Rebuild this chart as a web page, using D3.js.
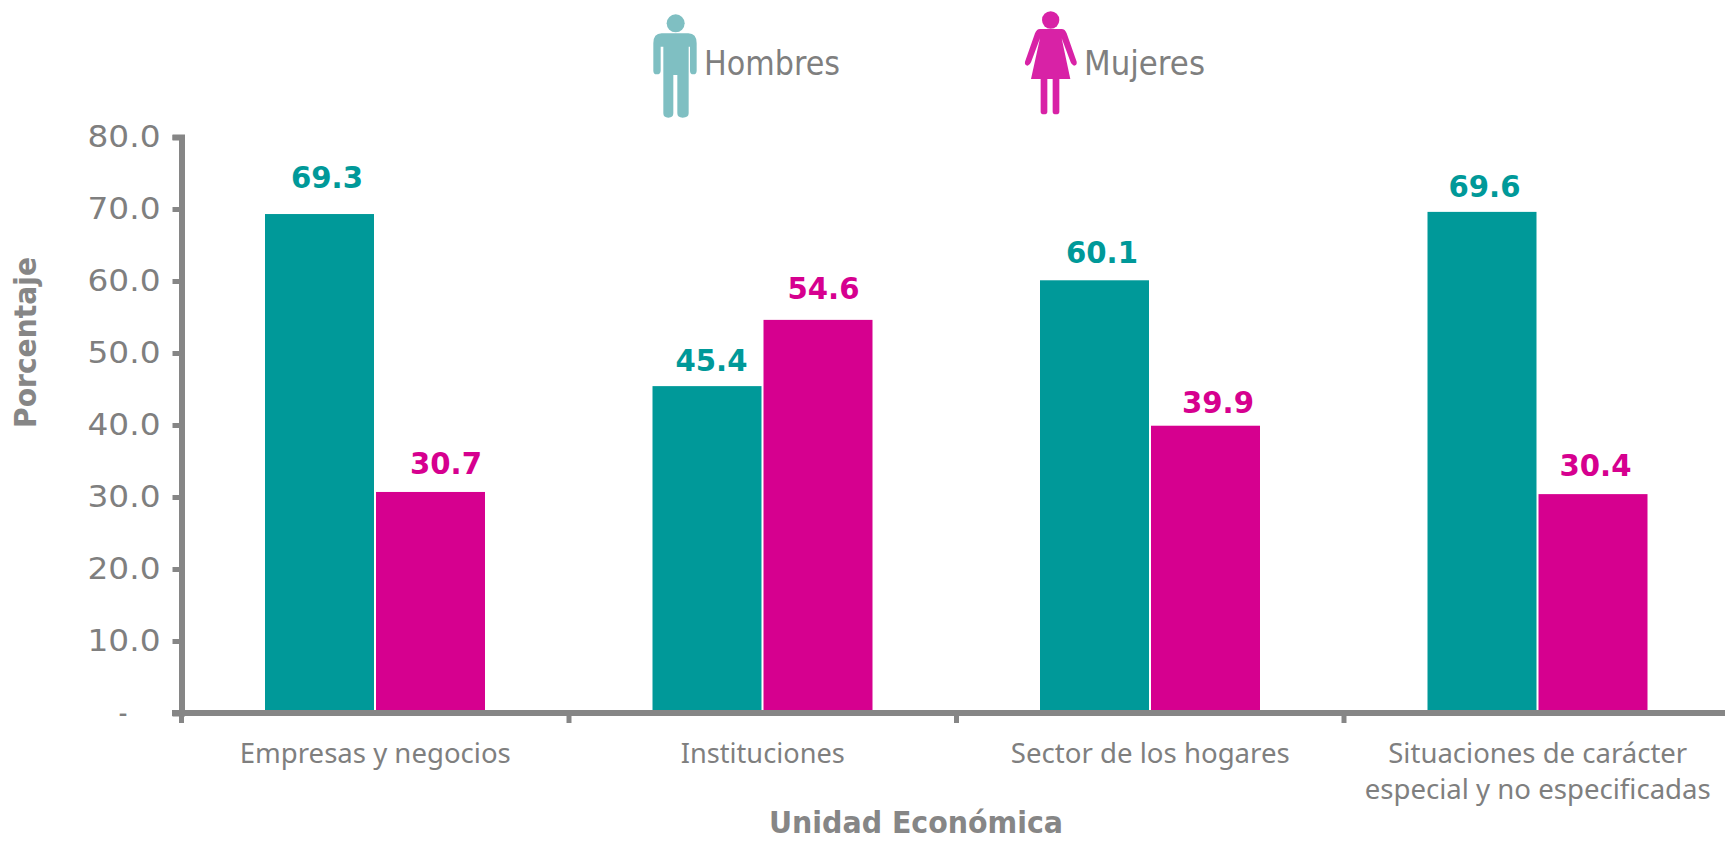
<!DOCTYPE html>
<html>
<head>
<meta charset="utf-8">
<script src="https://cdnjs.cloudflare.com/ajax/libs/d3/7.8.5/d3.min.js"></script>
<style>
  html, body { margin: 0; padding: 0; background: #fff; overflow: hidden; }
  text { font-family: "DejaVu Sans", sans-serif; }
</style>
</head>
<body>
<svg width="1725" height="841"></svg>
<script>
var categories = ["Empresas y negocios", "Instituciones", "Sector de los hogares", "Situaciones de carácter\nespecial y no especificadas"];
var hombres = [69.3, 45.4, 60.1, 69.6];
var mujeres = [30.7, 54.6, 39.9, 30.4];
var yTicks = [0, 10, 20, 30, 40, 50, 60, 70, 80];

var grey = "#868686";
var textGrey = "#7f7f7f";
var teal = "#009999";
var pink = "#d6008f";
var width = 1725;

var svg = d3.select("svg");

var x = d3.scaleBand()
  .domain(categories)
  .range([181.5, 181.5 + 4 * 387.5]);

var y = d3.scaleLinear()
  .domain([0, 80])
  .range([713, 137]);

// the data labels sit a little off centre in the original, moved by hand
var nudgeH = [[7, -26], [4, -15], [7, -17], [2, -15]];
var nudgeM = [[15, -18], [5, -21], [12, -13], [2, -18]];

var series = [
  { name: "hombres", values: hombres, color: teal, offset: 83.5, barWidth: 109, nudge: nudgeH },
  { name: "mujeres", values: mujeres, color: pink, offset: 194.5, barWidth: 109, nudge: nudgeM }
];

// bars and labels
series.forEach(function (s) {
  var g = svg.append("g").attr("class", s.name);

  g.selectAll("rect")
    .data(s.values)
    .enter()
    .append("rect")
    .attr("x", function (d, i) { return x(categories[i]) + s.offset; })
    .attr("y", function (d) { return y(d); })
    .attr("width", s.barWidth)
    .attr("height", function (d) { return y(0) - y(d); })
    .attr("fill", s.color);

  g.selectAll("text")
    .data(s.values)
    .enter()
    .append("text")
    .attr("x", function (d, i) { return x(categories[i]) + s.offset + 55 + s.nudge[i][0]; })
    .attr("y", function (d, i) { return y(d) + s.nudge[i][1]; })
    .attr("text-anchor", "middle")
    .attr("font-size", 31)
    .attr("font-weight", "bold")
    .attr("fill", s.color)
    .attr("textLength", 72)
    .attr("lengthAdjust", "spacingAndGlyphs")
    .text(function (d) { return d.toFixed(1); });
});

// y axis
var yAxis = d3.axisLeft(y)
  .tickValues(yTicks)
  .tickSize(9)
  .tickPadding(12)
  .tickFormat(function (d) { return d === 0 ? "-" : d.toFixed(1); });

var yG = svg.append("g")
  .attr("transform", "translate(181.5,0)")
  .call(yAxis);

yG.select(".domain").attr("stroke", grey).attr("stroke-width", 6);
yG.selectAll(".tick line").attr("stroke", grey).attr("stroke-width", 5);
yG.selectAll(".tick text")
  .attr("font-size", 31)
  .attr("fill", textGrey)
  .attr("textLength", function (d) { return d === 0 ? 9 : 73; })
  .attr("lengthAdjust", "spacingAndGlyphs")
  .attr("dx", function (d) { return d === 0 ? -33 : 0; });

// x axis, the ticks fall between the categories
svg.append("line")
  .attr("x1", 172)
  .attr("x2", width)
  .attr("y1", y(0))
  .attr("y2", y(0))
  .attr("stroke", grey)
  .attr("stroke-width", 6);

svg.selectAll(".xtick")
  .data(categories)
  .enter()
  .append("line")
  .attr("class", "xtick")
  .attr("x1", function (d) { return x(d); })
  .attr("x2", function (d) { return x(d); })
  .attr("y1", y(0))
  .attr("y2", y(0) + 10)
  .attr("stroke", grey)
  .attr("stroke-width", 5);

var catWidths = [[271], [164], [279], [299, 346]];

svg.selectAll(".cat")
  .data(categories)
  .enter()
  .append("text")
  .attr("class", "cat")
  .attr("font-size", 27)
  .style("font-family", '"Noto Sans", sans-serif')
  .attr("fill", textGrey)
  .attr("text-anchor", "middle")
  .each(function (d, i) {
    var el = d3.select(this);
    d.split("\n").forEach(function (line, k) {
      el.append("tspan")
        .attr("x", x(d) + x.bandwidth() / 2)
        .attr("y", 763 + k * 36)
        .attr("textLength", catWidths[i][k])
        .attr("lengthAdjust", "spacingAndGlyphs")
        .text(line);
    });
  });

// axis titles
svg.append("text")
  .attr("x", 916)
  .attr("y", 833)
  .attr("text-anchor", "middle")
  .attr("font-size", 31)
  .attr("font-weight", "bold")
  .attr("fill", grey)
  .attr("textLength", 294)
  .attr("lengthAdjust", "spacingAndGlyphs")
  .text("Unidad Económica");

svg.append("text")
  .attr("transform", "translate(36,342.5) rotate(-90)")
  .attr("text-anchor", "middle")
  .attr("font-size", 31)
  .attr("font-weight", "bold")
  .attr("fill", grey)
  .attr("textLength", 171)
  .attr("lengthAdjust", "spacingAndGlyphs")
  .text("Porcentaje");

// legend icons, they are slightly blurry pictures in the original
svg.append("defs")
  .append("filter")
  .attr("id", "soft")
  .append("feGaussianBlur")
  .attr("stdDeviation", 0.6);

var man = svg.append("g")
  .attr("transform", "translate(640,5) scale(0.3333)")
  .attr("fill", "#7fbfc2")
  .attr("filter", "url(#soft)");
man.append("circle").attr("cx", 107).attr("cy", 55).attr("r", 27);
man.append("path").attr("d", "M65 85 H145 Q170 85 170 115 V197 Q170 208 160 208 Q150 208 150 197 V125 H146 V325 Q146 338 128 338 Q112 338 112 325 V210 H100 V325 Q100 338 85 338 Q70 338 70 325 V125 H62 V197 Q62 208 50 208 Q40 208 40 197 V115 Q40 85 65 85 Z");

var woman = svg.append("g")
  .attr("transform", "translate(1015,5) scale(0.3333)")
  .attr("fill", "#d824a6")
  .attr("filter", "url(#soft)");
woman.append("circle").attr("cx", 107).attr("cy", 45).attr("r", 26);
woman.append("path").attr("d", "M75 72 H140 Q150 72 155 85 L185 170 Q187 180 177 182 Q170 180 167 172 L140 100 L166 222 H133 V320 Q133 328 123 328 Q113 328 113 320 V222 H97 V320 Q97 328 87 328 Q77 328 77 320 V222 H48 L75 100 L48 172 Q45 180 38 182 Q28 180 30 170 L60 85 Q65 72 75 72 Z");

svg.append("text")
  .attr("x", 704)
  .attr("y", 75)
  .attr("font-size", 34)
  .attr("fill", textGrey)
  .attr("textLength", 136)
  .attr("lengthAdjust", "spacingAndGlyphs")
  .text("Hombres");

svg.append("text")
  .attr("x", 1084)
  .attr("y", 75)
  .attr("font-size", 34)
  .attr("fill", textGrey)
  .attr("textLength", 121)
  .attr("lengthAdjust", "spacingAndGlyphs")
  .text("Mujeres");
</script>
</body>
</html>
